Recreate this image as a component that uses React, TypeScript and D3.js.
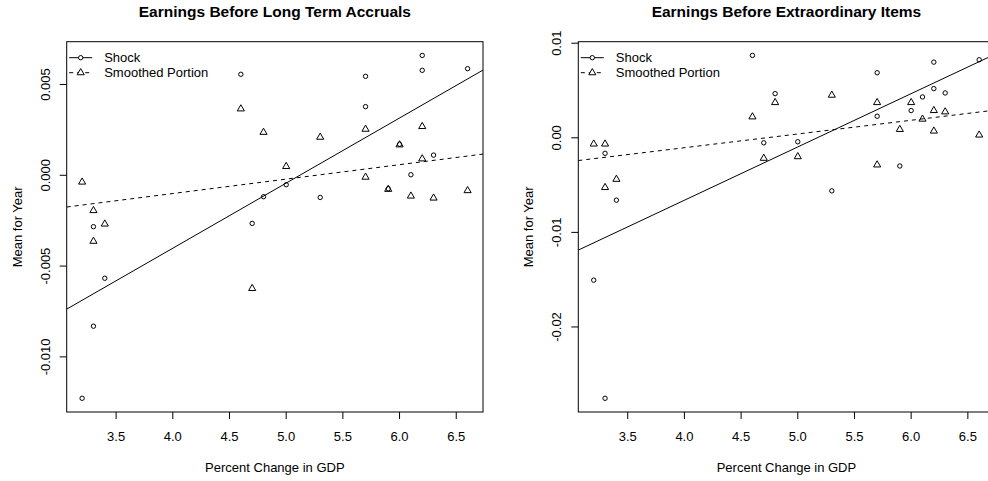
import React from 'react';
import * as d3 from 'd3';

// percent change in GDP, one entry per year (shared by both panels)
const gdp = [3.2, 3.3, 3.3, 3.4, 4.6, 4.7, 4.8, 5.0, 5.3, 5.7, 5.7, 5.9, 6.0, 6.1, 6.2, 6.2, 6.3, 6.6];

// Earnings Before Long Term Accruals
const ltaShock = [-0.01228, -0.00283, -0.00831, -0.00567, 0.00556, -0.00265, -0.00118, -0.00052, -0.00122,
  0.00545, 0.00378, -0.00074, 0.00171, 0.00003, 0.0066, 0.00578, 0.00111, 0.00587];
const ltaSmoothed = [-0.00034, -0.00191, -0.0036, -0.00265, 0.00369, -0.0062, 0.0024, 0.00052, 0.00213,
  0.00257, -0.00007, -0.00074, 0.00171, -0.00111, 0.00272, 0.00094, -0.00122, -0.00081];

// Earnings Before Extraordinary Items
const eiShock = [-0.01505, -0.00164, -0.02754, -0.00659, 0.00871, -0.00053, 0.00467, -0.00042, -0.00561,
  0.00688, 0.00228, -0.00298, 0.00288, 0.00432, 0.008, 0.0052, 0.00474, 0.00825];
const eiSmoothed = [-0.00059, -0.00059, -0.00519, -0.00432, 0.00228, -0.0021, 0.00379, -0.00193, 0.00457,
  0.00379, -0.0028, 0.00095, 0.00379, 0.00204, 0.00295, 0.00078, 0.00281, 0.00036];

const xTicks = [3.5, 4.0, 4.5, 5.0, 5.5, 6.0, 6.5];
const ltaYTicks = [0.005, 0, -0.005, -0.01];
const ltaYLabels = ['0.005', '0.000', '-0.005', '-0.010'];
const eiYTicks = [0.01, 0, -0.01, -0.02];
const eiYLabels = ['0.01', '0.00', '-0.01', '-0.02'];

const titles = ['Earnings Before Long Term Accruals', 'Earnings Before Extraordinary Items'];
const legendLabels = ['Shock', 'Smoothed Portion'];

const FONT = 'Liberation Sans, Arial, sans-serif';

// R style 4% extension
const pad = (ext: [number, number]): [number, number] => {
  const r = ext[1] - ext[0];
  return [ext[0] - r * 0.04, ext[1] + r * 0.04];
};

const fit = (xs: number[], ys: number[]) => {
  const mx = d3.mean(xs)!;
  const my = d3.mean(ys)!;
  let sxy = 0, sxx = 0;
  xs.forEach((x, i) => { sxy += (x - mx) * (ys[i] - my); sxx += (x - mx) ** 2; });
  const b = sxy / sxx;
  return (x: number) => my + b * (x - mx);
};

const triangle = d3.symbol().type(d3.symbolTriangle).size(22);

type PanelProps = {
  idx: number;
  left: number;
  shock: number[];
  smoothed: number[];
  yTicks: number[];
  yLabels: string[];
};

const Panel = ({ idx, left, shock, smoothed, yTicks, yLabels }: PanelProps) => {
  const top = 41.7;
  const w = 416.3;
  const h = 370.3;
  const x = d3.scaleLinear().domain(pad(d3.extent(gdp) as [number, number])).range([left, left + w]);
  const y = d3.scaleLinear()
    .domain(pad(d3.extent([...shock, ...smoothed]) as [number, number]))
    .range([top + h, top]);
  const [x0, x1] = x.domain();
  const fShock = fit(gdp, shock);
  const fSmooth = fit(gdp, smoothed);
  const clipId = `clip${idx}`;
  const cy = top + h / 2;

  return (
    <g>
      <defs>
        <clipPath id={clipId}>
          <rect x={left} y={top} width={w} height={h} />
        </clipPath>
      </defs>
      <text x={left + w / 2} y={16.5} textAnchor="middle" fontFamily={FONT} fontWeight="bold" fontSize={15.5}>
        {titles[idx]}
      </text>
      <rect x={left} y={top} width={w} height={h} fill="none" stroke="#000" strokeWidth={1} />

      {xTicks.map((t) => (
        <g key={t}>
          <line x1={x(t)} x2={x(t)} y1={top + h} y2={top + h + 7} stroke="#000" />
          <text x={x(t)} y={top + h + 29} textAnchor="middle" fontFamily={FONT} fontSize={13}>
            {t.toFixed(1)}
          </text>
        </g>
      ))}
      {yTicks.map((t, i) => (
        <g key={t}>
          <line x1={left - 7} x2={left} y1={y(t)} y2={y(t)} stroke="#000" />
          <text transform={`translate(${left - 17},${y(t)}) rotate(-90)`} textAnchor="middle"
            fontFamily={FONT} fontSize={13}>
            {yLabels[i]}
          </text>
        </g>
      ))}
      <text x={left + w / 2} y={472} textAnchor="middle" fontFamily={FONT} fontSize={13}>
        Percent Change in GDP
      </text>
      <text transform={`translate(${left - 45},${cy}) rotate(-90)`} textAnchor="middle"
        fontFamily={FONT} fontSize={13}>
        Mean for Year
      </text>

      <g clipPath={`url(#${clipId})`}>
        <line x1={x(x0)} x2={x(x1)} y1={y(fShock(x0))} y2={y(fShock(x1))} stroke="#000" strokeWidth={1} />
        <line x1={x(x0)} x2={x(x1)} y1={y(fSmooth(x0))} y2={y(fSmooth(x1))} stroke="#000" strokeWidth={1}
          strokeDasharray="4,4" />
        {gdp.map((g, i) => (
          <circle key={`c${i}`} cx={x(g)} cy={y(shock[i])} r={2.2} fill="none" stroke="#000" strokeWidth={1} />
        ))}
        {gdp.map((g, i) => (
          <path key={`t${i}`} d={triangle()!} transform={`translate(${x(g)},${y(smoothed[i]) + 0.6})`}
            fill="none" stroke="#000" strokeWidth={1} />
        ))}
      </g>

      {legendLabels.map((lab, i) => {
        const ly = 57.7 + i * 15;
        const lx = left + 2.5;
        return (
          <g key={lab}>
            <line x1={lx} x2={lx + 23} y1={ly} y2={ly} stroke="#000" strokeDasharray={i ? '4,4' : undefined} />
            {i === 0 ? (
              <circle cx={lx + 11.5} cy={ly} r={2.2} fill="#fff" stroke="#000" />
            ) : (
              <path d={triangle()!} transform={`translate(${lx + 11.5},${ly})`} fill="#fff" stroke="#000" />
            )}
            <text x={lx + 35} y={ly + 4.5} fontFamily={FONT} fontSize={13}>{lab}</text>
          </g>
        );
      })}
    </g>
  );
};

export default function App() {
  return (
    <svg width={988} height={481} style={{ position: 'absolute', left: 0, top: 0, background: '#fff' }}>
      <rect width={988} height={481} fill="#fff" />
      <Panel idx={0} left={66.7} shock={ltaShock} smoothed={ltaSmoothed} yTicks={ltaYTicks} yLabels={ltaYLabels} />
      <Panel idx={1} left={578.3} shock={eiShock} smoothed={eiSmoothed} yTicks={eiYTicks} yLabels={eiYLabels} />
    </svg>
  );
}
